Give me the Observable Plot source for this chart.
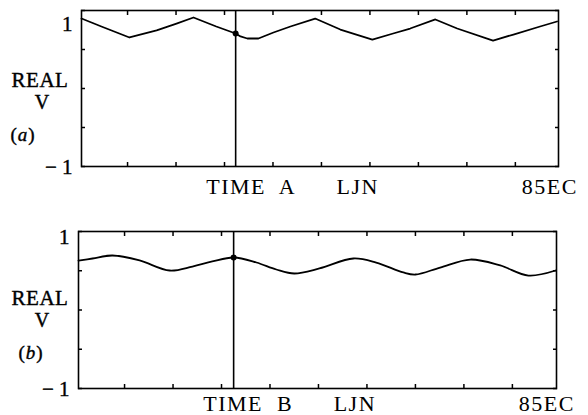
<!DOCTYPE html>
<html>
<head>
<meta charset="utf-8">
<script src="https://cdn.jsdelivr.net/npm/d3@7"></script>
<script src="https://cdn.jsdelivr.net/npm/@observablehq/plot@0.6"></script>
<style>
  html, body { margin: 0; padding: 0; background: #fff; }
  #wrap { position: relative; width: 588px; height: 415px; }
  .panel { position: relative; width: 588px; }
  .lab { position: absolute; font-family: "Liberation Serif", "DejaVu Serif", serif; color: #000; text-align: center; line-height: 1; -webkit-text-stroke: 0.4px #000; }
  svg text { white-space: pre; }
  svg g[aria-label="x-axis tick label"] text { letter-spacing: 1.5px; }
</style>
</head>
<body>
<div id="wrap"></div>
<script>
// Panel (a): time (s) and real V
const tA = [0, 0.41, 0.99, 1.55, 1.96, 2.31, 2.78, 3.18, 3.28, 3.42, 3.65, 3.96, 4.31, 4.82, 5.34, 6.0, 6.43, 6.78, 7.30, 7.75, 8.49, 8.91, 9.46, 9.81];
const vA = [0.897, 0.795, 0.654, 0.744, 0.833, 0.91, 0.795, 0.705, 0.667, 0.641, 0.641, 0.718, 0.795, 0.897, 0.756, 0.628, 0.705, 0.769, 0.885, 0.769, 0.615, 0.692, 0.795, 0.859];
// Panel (b)
const tB = [0, 0.29, 0.70, 1.26, 1.88, 2.35, 2.76, 3.2, 3.67, 4.08, 4.45, 4.97, 5.67, 6.14, 6.70, 6.95, 7.46, 8.08, 8.70, 9.28, 9.84];
const vB = [0.63, 0.656, 0.694, 0.631, 0.503, 0.554, 0.618, 0.669, 0.605, 0.516, 0.465, 0.529, 0.656, 0.605, 0.478, 0.452, 0.541, 0.643, 0.567, 0.439, 0.503];

const markerA = {t: 3.18, v: 0.705};
const markerB = {t: 3.2, v: 0.669};

const xTicks = [0.95, 1.95, 2.95, 3.95, 4.95, 5.95, 6.95, 7.95, 8.95];
const yTicks = [-1, -0.5, 0, 0.5, 1];
const xLabelPos = [3.5, 5.7, 9.66];
const xLabelsA = ["TIME  A", "LJN", "85EC"];
const xLabelsB = ["TIME  B", "LJN", "85EC"];

const font = "'Liberation Serif', 'DejaVu Serif', serif";

function panel(t, v, marker, labels, o) {
  const data = t.map((d, i) => ({t: d, v: v[i]}));
  const txt = {fontSize: 22, fill: "#000", stroke: "#000", strokeWidth: 0.4};
  return Plot.plot({
    width: 588,
    height: o.height,
    marginLeft: o.ml, marginRight: o.mr, marginTop: o.mt, marginBottom: o.mb,
    style: {fontFamily: font, background: "#fff", overflow: "visible"},
    x: {domain: [0, o.xmax], label: null},
    y: {domain: [-1, 1], label: null},
    marks: [
      Plot.axisX({anchor: "bottom", ticks: xTicks, tickSize: -4, tickFormat: () => "", strokeWidth: 1.5, label: null}),
      Plot.axisX({anchor: "top", ticks: xTicks, tickSize: -4, tickFormat: () => "", strokeWidth: 1.5, label: null}),
      Plot.axisY({anchor: "left", ticks: yTicks, tickSize: -4, tickFormat: () => "", strokeWidth: 1.5, label: null}),
      Plot.axisY({anchor: "right", ticks: yTicks, tickSize: -4, tickFormat: () => "", strokeWidth: 1.5, label: null}),
      Plot.axisX({anchor: "bottom", ticks: xLabelPos, tickSize: 0, tickPadding: o.xpad, label: null,
        tickFormat: (d, i) => labels[i], ...txt}),
      Plot.text([1], {y: d => d, frameAnchor: "left", dx: -9, dy: o.oneDy, textAnchor: "end", text: () => "1", ...txt, fontSize: 21}),
      Plot.text([-1], {y: d => d, frameAnchor: "left", dx: -9, dy: 1, textAnchor: "end", text: () => "\u2212 1", ...txt, fontSize: 21}),
      Plot.ruleX([marker], {x: "t", stroke: "#000", strokeWidth: 1.6}),
      Plot.line(data, {x: "t", y: "v", stroke: "#000", strokeWidth: 1.8, curve: o.curve}),
      Plot.dot([marker], {x: "t", y: "v", r: 3, fill: "#000"}),
      Plot.frame({stroke: "#000", strokeWidth: 1.6})
    ]
  });
}

const wrap = document.getElementById("wrap");

function addPanel(svg, h, texts) {
  const p = document.createElement("div");
  p.className = "panel";
  p.style.height = h + "px";
  p.appendChild(svg);
  for (const tx of texts) {
    const d = document.createElement("div");
    d.className = "lab";
    d.innerHTML = tx.s;
    d.style.left = tx.x + "px";
    d.style.top = tx.y + "px";
    d.style.width = tx.w + "px";
    d.style.fontSize = tx.fs + "px";
    d.style.letterSpacing = (tx.ls || 0) + "px";
    p.appendChild(d);
  }
  wrap.appendChild(p);
}

addPanel(panel(tA, vA, markerA, xLabelsA, {height: 200, ml: 81, mr: 30, mt: 10, mb: 34, xmax: 9.84, xpad: 12, oneDy: 14, curve: "linear"}), 200, [
  {s: "REAL", x: 3, y: 70, w: 74, fs: 21, ls: 0.5},
  {s: "V", x: 2, y: 92, w: 80, fs: 20},
  {s: "(<i>a</i>)", x: 4, y: 125, w: 38, fs: 19, ls: 1}
]);
addPanel(panel(tB, vB, markerB, xLabelsB, {height: 215, ml: 78, mr: 32, mt: 31, mb: 27, xmax: 9.86, xpad: 7, oneDy: 6, curve: "catmull-rom"}), 215, [
  {s: "REAL", x: 3, y: 88, w: 74, fs: 21, ls: 0.5},
  {s: "V", x: 2, y: 110, w: 80, fs: 20},
  {s: "(<i>b</i>)", x: 12, y: 143, w: 38, fs: 19, ls: 1}
]);
</script>
</body>
</html>
